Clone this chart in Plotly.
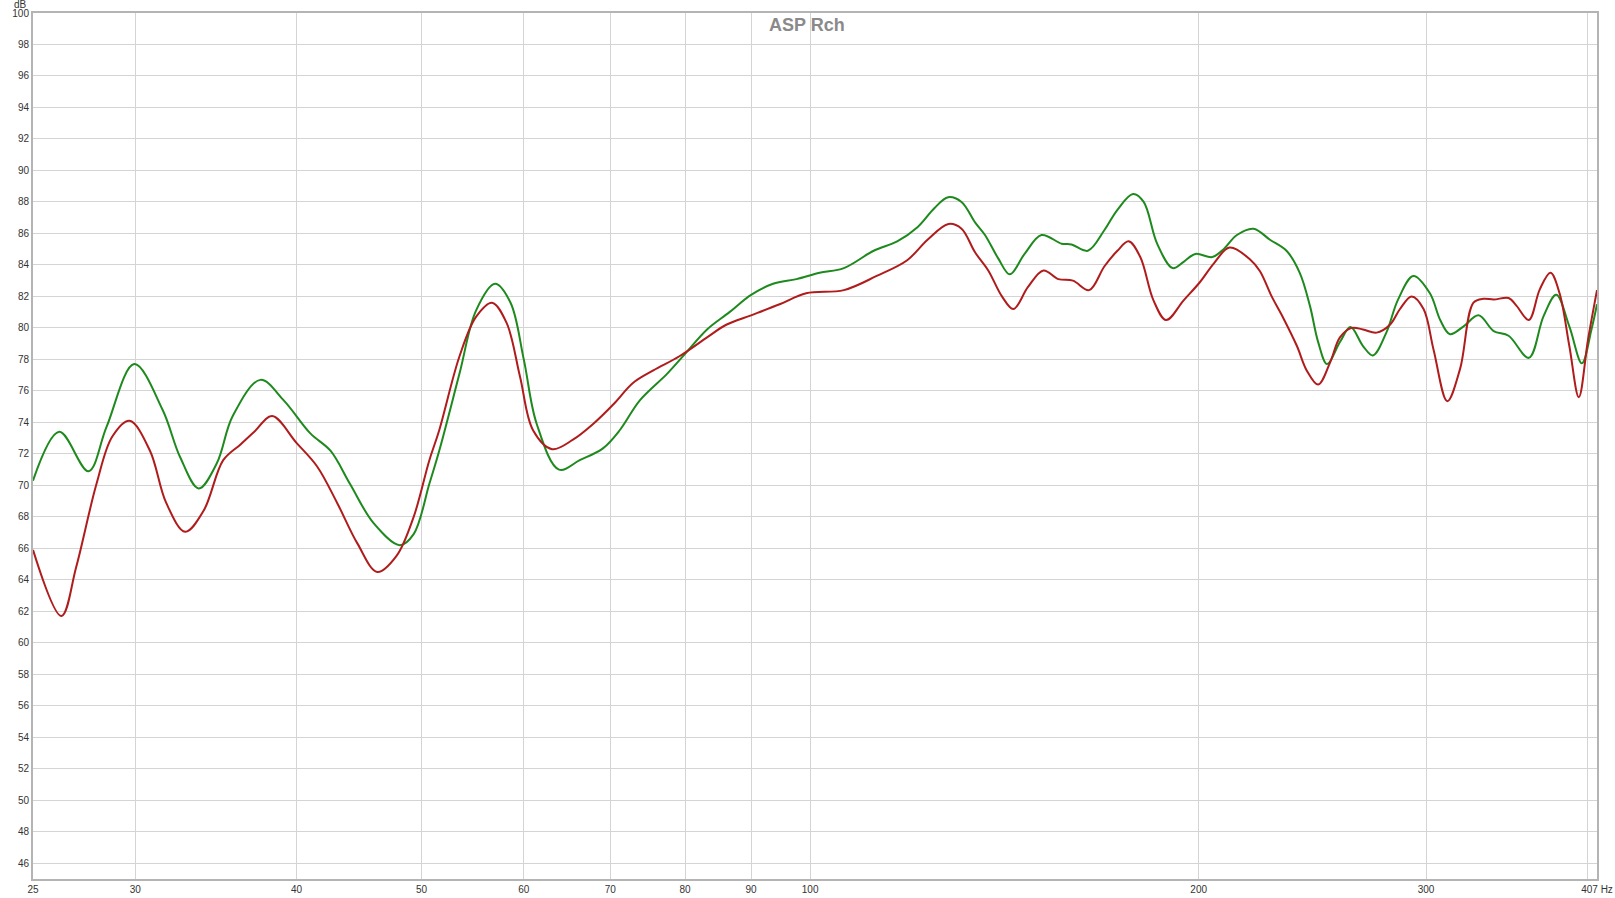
import plotly.graph_objects as go

# Frequency response readings (Hz, dB) for the two curves
green_freq = [25, 26.2, 27.6, 28.5, 29.95, 31.5, 32.5, 33.6, 34.7, 35.7, 37.5, 39.1, 41.0, 42.5,
              44.0, 45.9, 48.1, 49.3, 50.7, 51.6, 53.5, 55.1, 57.0, 58.6, 60.0, 61.4, 63.9,
              66.3, 69.1, 71.2, 73.8, 77.5, 80.1, 83.2, 86.6, 90.0, 93.6, 97.6, 101.7, 106.2,
              112, 116.8, 121.1, 124.8, 127.9, 131, 134.2, 136.6, 139.9, 142.8, 146.6, 151.1,
              156.6, 159.4, 164.1, 169, 173, 177.9, 181.3, 185.7, 190.9, 194.7, 198.8, 204.9,
              209.1, 214.1, 220.5, 227.1, 233.9, 239.5, 243.9, 247.5, 251.5, 257.3, 262.2,
              268.1, 272.9, 279.5, 285.4, 293.3, 302.1, 307.7, 313.1, 320.8, 329.5, 338.5,
              347.6, 360.4, 370, 378.5, 387.4, 396.2, 403, 407]
green_db = [70.3, 73.4, 70.9, 73.7, 77.7, 74.8, 71.8, 69.8, 71.4, 74.4, 76.7, 75.4, 73.3, 72.2,
            70.1, 67.6, 66.2, 66.9, 70.1, 72.2, 77.1, 81.1, 82.8, 81.6, 78.0, 73.9, 71.0,
            71.6, 72.35, 73.5, 75.4, 77.1, 78.4, 79.9, 81.0, 82.1, 82.8, 83.1, 83.5, 83.8,
            84.9, 85.5, 86.4, 87.6, 88.3, 88.0, 86.7, 85.9, 84.4, 83.4, 84.7, 85.9,
            85.35, 85.3, 84.9, 86.2, 87.5, 88.5, 88.0, 85.35, 83.8, 84.2, 84.7, 84.5,
            85.0, 85.9, 86.3, 85.6, 84.9, 83.5, 81.4, 79.1, 77.7, 79.1, 80.05,
            78.85, 78.25, 79.7, 81.8, 83.3, 82.2, 80.5, 79.6, 80.1, 80.8, 79.8,
            79.5, 78.1, 80.75, 82.1, 80.1, 77.75, 79.9, 81.5]

red_freq = [25, 26.3, 27.0, 28.0, 28.8, 29.7, 30.8, 31.7, 32.8, 33.9, 35.1, 36.2, 37.1, 38.3,
            40.0, 41.5, 43.0, 44.6, 46.2, 47.8, 49.3, 50.7, 51.6, 53.5, 55.1, 56.7, 58.2,
            59.6, 61.0, 63.1, 65.5, 67.9, 70.5, 72.9, 75.6, 79.2, 83.2, 86.1, 90.0, 94.7,
            99.3, 106.2, 112.6, 118.9, 123.3, 128, 131, 134.2, 137.4, 140.8, 143.7, 147.5,
            151.6, 155.7, 159.8, 164.5, 169, 173, 176.5, 180.2, 184.5, 188.7, 194.7, 200.4,
            205.5, 211.3, 219.2, 223.1, 227.8, 232.5, 238.3, 242.5, 247.5, 252.8, 257.3,
            262.7, 268.1, 274.7, 281.3, 286.4, 292.4, 298.7, 304.1, 311.6, 318.8, 326.5,
            332.4, 338.5, 347.6, 352.6, 360.4, 367.5, 374.6, 380.7, 387.4, 394, 400.6, 407]
red_db = [65.9, 61.7, 64.8, 70.1, 73.1, 74.1, 72.2, 68.9, 67.05, 68.4, 71.6, 72.6, 73.4, 74.4,
          72.7, 71.2, 68.9, 66.3, 64.5, 65.5, 68.0, 71.6, 73.5, 78.2, 80.7, 81.6, 80.3,
          76.9, 73.5, 72.3, 72.9, 73.9, 75.2, 76.5, 77.3, 78.2, 79.4, 80.2, 80.8, 81.5,
          82.2, 82.4, 83.3, 84.3, 85.6, 86.6, 86.3, 84.8, 83.65, 82.0, 81.2, 82.6,
          83.65, 83.1, 83.0, 82.4, 83.9, 84.9, 85.5, 84.5, 81.75, 80.5, 81.75, 82.9,
          84.1, 85.1, 84.35, 83.6, 82.0, 80.65, 78.85, 77.3, 76.4, 77.8, 79.4,
          80.0, 79.9, 79.7, 80.2, 81.2, 82.0, 81.2, 78.6, 75.35, 77.4, 81.6,
          81.85, 81.8, 81.9, 81.4, 80.5, 82.45, 83.5, 82.2, 78.85, 75.6, 79.3, 82.4]

x_ticks = [25, 30, 40, 50, 60, 70, 80, 90, 100, 200, 300, 407]
x_labels = ["25", "30", "40", "50", "60", "70", "80", "90", "100", "200", "300", "407 Hz"]
y_ticks = list(range(46, 101, 2))

font = "Arial, Liberation Sans, sans-serif"

fig = go.Figure()
fig.add_trace(go.Scatter(x=green_freq, y=green_db, mode="lines",
                         line=dict(color="#1e8a1e", width=2, shape="spline", smoothing=1.0)))
fig.add_trace(go.Scatter(x=red_freq, y=red_db, mode="lines",
                         line=dict(color="#b01c1c", width=2, shape="spline", smoothing=1.0)))

fig.update_layout(
    width=1615, height=898,
    margin=dict(l=33, r=18, t=13, b=19, pad=0, autoexpand=False),
    paper_bgcolor="white", plot_bgcolor="white",
    showlegend=False,
    font=dict(family=font, size=10, color="#333333"),
)

fig.update_xaxes(
    type="log", range=[1.39794, 2.60959], automargin=False,
    tickvals=x_ticks, ticktext=x_labels, ticks="", ticklabeloverflow="allow",
    showgrid=True, gridcolor="#d4d4d4", gridwidth=1,
    minor=dict(tickvals=[400], showgrid=True, gridcolor="#d4d4d4", ticks=""),
    showline=True, linecolor="#b4b4b4", linewidth=2, mirror=True,
    zeroline=False, tickfont=dict(size=10, color="#333333"),
)

fig.update_yaxes(
    range=[45, 100], tickvals=y_ticks, ticks="", automargin=False,
    ticklabeloverflow="allow",
    showgrid=True, gridcolor="#d4d4d4", gridwidth=1,
    showline=True, linecolor="#b4b4b4", linewidth=2, mirror=True,
    zeroline=False, tickfont=dict(size=10, color="#333333"),
)

fig.add_annotation(text="dB", xref="paper", yref="paper", x=0, y=1,
                   xanchor="right", yanchor="bottom", xshift=-4, yshift=1,
                   showarrow=False, font=dict(size=10, color="#333333"))
fig.add_annotation(text="<b>ASP Rch</b>", xref="paper", yref="paper", x=0.5, y=1,
                   xanchor="center", yanchor="top", xshift=-8, yshift=0,
                   showarrow=False, font=dict(size=18, color="#8a8a8a"))

# drop the default 8px page margin so the figure sits at the window's corner
fig.write_html("out.html", config={"displayModeBar": False},
               post_script="document.body.style.margin='0';")
